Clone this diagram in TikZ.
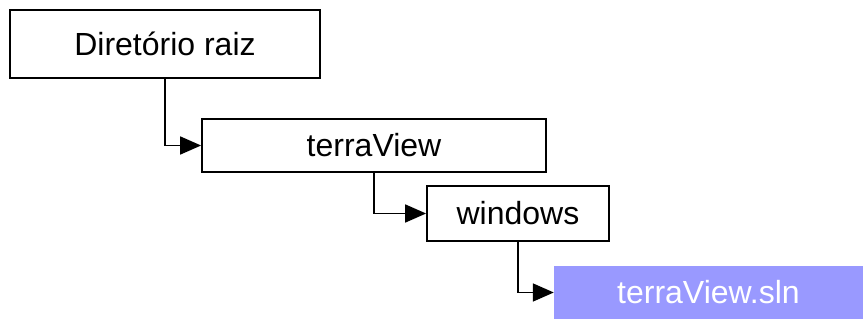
\documentclass[tikz,border=0pt]{standalone}
\usepackage{fontspec}
\setmainfont{Liberation Sans}
\usetikzlibrary{arrows.meta}
\definecolor{filebox}{HTML}{9999FF}
\begin{document}
\begin{tikzpicture}[x=1pt,y=-1pt,
  dirbox/.style={draw=black,line width=1.8pt,fill=white,inner sep=0pt,font=\fontsize{32}{38}\selectfont},
  filenode/.style={fill=filebox,text=white,inner sep=0pt,font=\fontsize{32}{38}\selectfont},
  link/.style={line width=1.8pt,-{Triangle[length=21pt,width=18pt]}}]
\useasboundingbox (0,0) rectangle (863,320);
\node[dirbox,minimum width=310pt,minimum height=68pt] (root) at (165,44) {Diretório raiz};
\node[dirbox,minimum width=344pt,minimum height=53pt] (tv) at (374,145.5) {terraView};
\node[dirbox,minimum width=182pt,minimum height=55pt] (win) at (518,213.5) {windows};
\node[filenode,minimum width=309pt,minimum height=53pt] (sln) at (708.5,292.5) {terraView.sln};
\draw[link] (root.south) |- (tv.west);
\draw[link] (tv.south) |- (win.west);
\draw[link] (win.south) |- (sln.west);
\end{tikzpicture}
\end{document}
